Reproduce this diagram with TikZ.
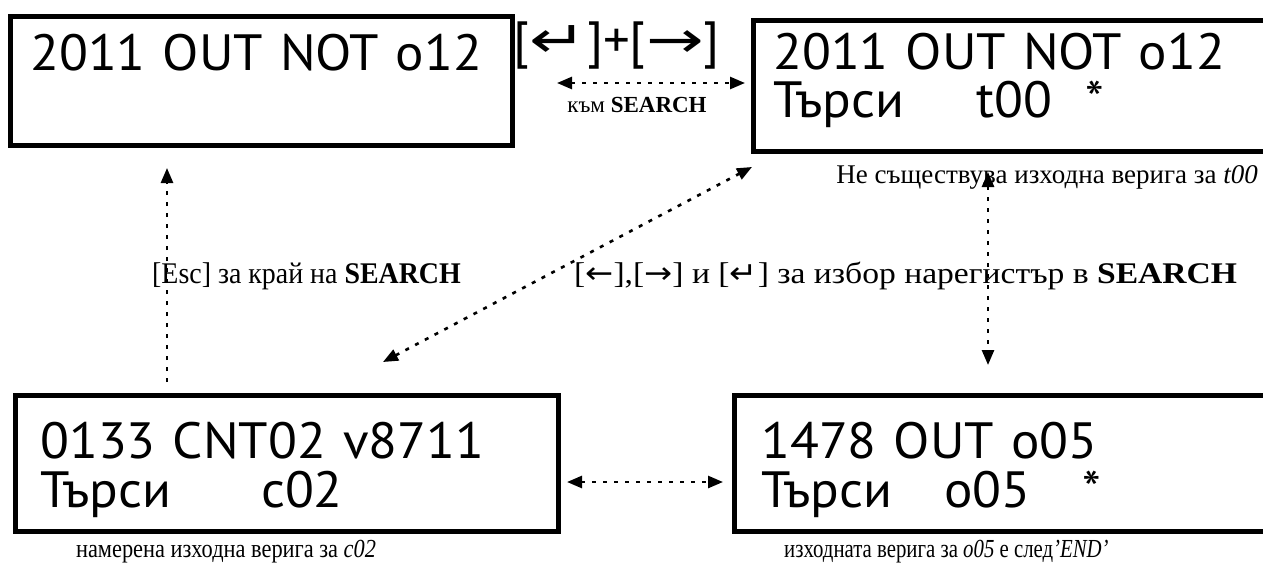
\documentclass[tikz,border=0pt]{standalone}
\usepackage{fontspec}
\setmainfont{Liberation Serif}
\newfontfamily\lcd{PT Sans}[FakeStretch=1.04]
\newfontfamily\sym{DejaVu Sans}
\newcommand\lcdfont{\lcd\fontsize{51}{51}\selectfont\spaceskip=17pt\relax}
\newcommand\keyarrow[1]{\scalebox{1.35}[1]{\sym #1}}
\usetikzlibrary{arrows.meta}
\begin{document}
\begin{tikzpicture}[x=1pt,y=-1pt,
 >={Triangle[length=15pt,width=12pt]},
 lcdbox/.style={draw,line width=5pt,rectangle,inner sep=0pt,outer sep=0pt},
 lcdtext/.style={anchor=base west,inner sep=0pt,font=\lcdfont},
 conn/.style={line width=2.6pt,dash pattern=on 4pt off 7pt},
 lbl/.style={inner sep=0pt,font=\fontsize{30}{30}\selectfont},
 lblt/.style={inner sep=0pt,font=\fontsize{27}{27}\selectfont},
 lbls/.style={inner sep=0pt,font=\fontsize{26}{26}\selectfont}]
\clip (0,0) rectangle (1263,565);
\fill[white] (0,0) rectangle (1263,565);
% boxes
\node[lcdbox,minimum width=502pt,minimum height=129pt] (b1) at (261,80.5) {};
\node[lcdbox,minimum width=527pt,minimum height=131pt] (b2) at (1016.5,85.5) {};
\node[lcdbox,minimum width=543pt,minimum height=136pt] (b3) at (286.5,463) {};
\node[lcdbox,minimum width=546pt,minimum height=136pt] (b4) at (1007,463) {};
% box texts
\node[lcdtext] (t1) at (30,70) {2011 OUT NOT o12};
\node[lcdtext] (t2a) at (773,69) {2011 OUT NOT o12};
\node[lcdtext] (t2b) at (773,117) {Търси\hspace{72pt}t00\hspace{34pt}*};
\node[lcdtext] (t3a) at (40,458) {0133 CNT02 v8711};
\node[lcdtext] (t3b) at (40,507) {Търси\hspace{90pt}c02};
\node[lcdtext] (t4a) at (761,458) {1478 OUT o05};
\node[lcdtext] (t4b) at (761,507) {Търси\hspace{52pt}o05\hspace{52pt}*};
\node[lcdtext] (keys) at (513,57) {[\keyarrow{↵}]+[\keyarrow{→}]};
% connectors
\coordinate (a1) at (557,83); \coordinate (a2) at (745,83);
\draw[conn,<->] (a1) -- (a2);
\coordinate (e1) at (167,382); \coordinate (e2) at (167,168);
\draw[conn,->] (e1) -- (e2);
\coordinate (d1) at (383,362); \coordinate (d2) at (752,167);
\draw[conn,<->] (d1) -- (d2);
\coordinate (v1) at (988,172); \coordinate (v2) at (988,365);
\draw[conn,<->] (v1) -- (v2);
\coordinate (h1) at (567,482); \coordinate (h2) at (723,482);
\draw[conn,<->] (h1) -- (h2);
% labels
\node[inner sep=0pt,anchor=base,font=\fontsize{23}{23}\selectfont] (lk) at (637,112) {към \textbf{SEARCH}};
\node[lblt,anchor=base east] (l2) at (1258,183) {Не съществува изходна верига за \textit{t00}};
\node[lbl,anchor=base west] (lesc) at (152,283) {\scalebox{0.93}[1]{[Esc] за край на \textbf{SEARCH}}};
\node[lbl,anchor=base west] (lsel) at (574,283) {\scalebox{1.12}[1]{[{\sym ←}],[{\sym →}] и [{\sym ↵}] за избор нарегистър в \textbf{SEARCH}}};
\node[lbls,anchor=base] (l3) at (226,557) {\scalebox{0.86}[1]{намерена изходна верига за \textit{c02}}};
\node[lbls,anchor=base west] (l4) at (784,557) {\scalebox{0.8}[1]{изходната верига за \textit{o05} е след\textit{’END’}}};
\end{tikzpicture}
\end{document}
